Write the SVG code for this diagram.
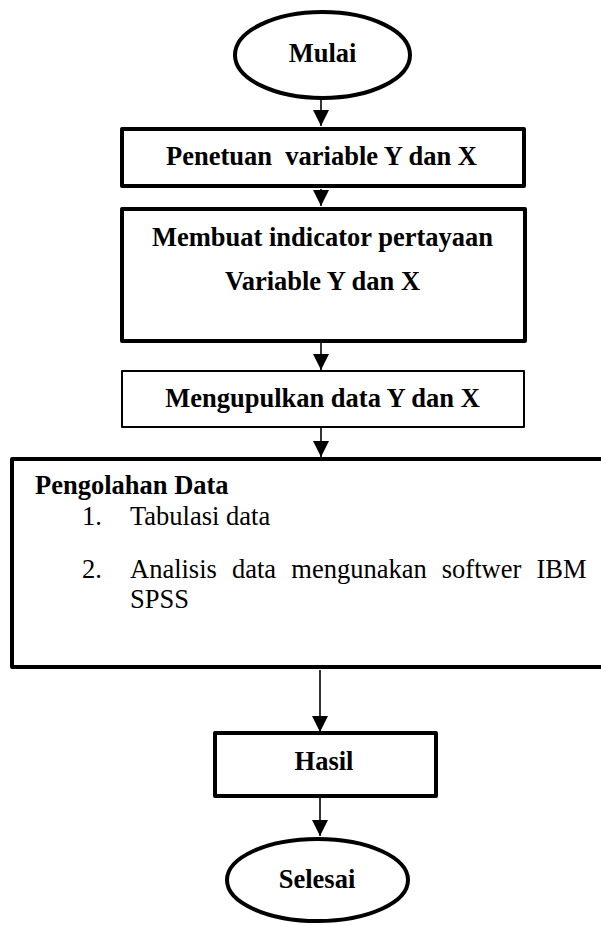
<svg xmlns="http://www.w3.org/2000/svg" width="601" height="925" viewBox="0 0 601 925">
<style>
.b{font-family:"Liberation Serif","Times New Roman",serif;font-weight:bold;font-size:26.5px;fill:#000;text-anchor:middle}
.r{font-family:"Liberation Serif","Times New Roman",serif;font-size:26.5px;fill:#000}
.bl{font-family:"Liberation Serif","Times New Roman",serif;font-weight:bold;font-size:26.5px;fill:#000}
.shape{fill:#fff;stroke:#000;stroke-width:4;stroke-linejoin:round}
.conn{stroke:#000;stroke-width:1.6;fill:none}
</style>
<defs>
<marker id="ah" markerUnits="userSpaceOnUse" markerWidth="16" markerHeight="16" viewBox="0 0 14 14" refX="14" refY="7" orient="auto">
<path d="M0,0 L14,7 L0,14 z" fill="#000"/>
</marker>
</defs>
<rect width="601" height="925" fill="#fff"/>
<g id="connectors">
<line class="conn" x1="321" y1="100" x2="321" y2="126" marker-end="url(#ah)"/>
<line class="conn" x1="321" y1="189" x2="321" y2="206" marker-end="url(#ah)"/>
<line class="conn" x1="321" y1="343" x2="321" y2="370" marker-end="url(#ah)"/>
<line class="conn" x1="321" y1="428" x2="321" y2="457" marker-end="url(#ah)"/>
<line class="conn" x1="320" y1="670" x2="320" y2="732" marker-end="url(#ah)"/>
<line class="conn" x1="320" y1="798" x2="320" y2="836" marker-end="url(#ah)"/>
</g>
<g id="mulai">
<ellipse class="shape" cx="322.5" cy="55" rx="87.5" ry="43"/>
<text class="b" x="322.5" y="62">Mulai</text>
</g>
<g id="penetuan">
<rect class="shape" x="122" y="129" width="402" height="57" stroke-width="4.5"/>
<text class="b" x="321.5" y="165">Penetuan&#160; variable Y dan X</text>
</g>
<g id="membuat">
<rect class="shape" x="122" y="209" width="403" height="132"/>
<text class="b" x="322.5" y="246">Membuat indicator pertayaan</text>
<text class="b" x="322.5" y="290">Variable Y dan X</text>
</g>
<g id="mengupulkan">
<rect class="shape" x="122" y="371" width="402" height="56" style="stroke-width:2"/>
<text class="b" x="322.5" y="407">Mengupulkan data Y dan X</text>
</g>
<g id="pengolahan">
<rect class="shape" x="12" y="459" width="600" height="208"/>
<text class="bl" x="35" y="494">Pengolahan Data</text>
<text class="r" x="82" y="525">1.</text>
<text class="r" x="130" y="525">Tabulasi data</text>
<text class="r" x="82" y="578">2.</text>
<text class="r" y="578"><tspan x="130">Analisis</tspan><tspan x="232">data</tspan><tspan x="291.3">mengunakan</tspan><tspan x="441.8">softwer</tspan><tspan x="536.4">IBM</tspan></text>
<text class="r" x="130" y="608">SPSS</text>
</g>
<g id="hasil">
<rect class="shape" x="215" y="733" width="221" height="63"/>
<text class="b" x="324" y="770">Hasil</text>
</g>
<g id="selesai">
<ellipse class="shape" cx="317.5" cy="880" rx="90.5" ry="41"/>
<text class="b" x="317" y="888">Selesai</text>
</g>
</svg>
